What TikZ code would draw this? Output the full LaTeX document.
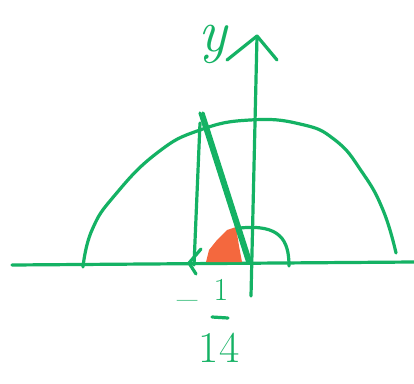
\documentclass[tikz,border=0pt]{standalone}
\usepackage{amsmath,amssymb}
\usepackage{tikz}
\usetikzlibrary{arrows.meta}
\usepackage{xcolor}
\definecolor{penGreen}{RGB}{20, 178, 100}
\definecolor{penOrange}{RGB}{244, 104, 62}

\begin{document}
\begin{tikzpicture}[x=1pt, y=-1pt, >=Latex]
      \tikzset{pen/.style={penGreen, line width=3.2pt, line cap=round, line join=round},
        handtext/.style={penGreen, inner sep=0pt}}
      \useasboundingbox (0,0) rectangle (414,383);
      \fill[white] (0,0) rectangle (414,383);
      % axes
      \coordinate (xl) at (12,265);
      \coordinate (xr) at (414,262);
      \coordinate (yb) at (251,296);
      \coordinate (yt) at (257,36);
      \coordinate (ya) at (227,60);
      \coordinate (yc) at (277,60);
      \draw[pen] (xl) -- (xr);
      \draw[pen] (yb) -- (yt);
      \draw[pen] (ya) -- (yt) -- (yc);
      \node[handtext, font=\fontsize{60}{60}\selectfont\itshape] (ylab) at (213,44) {y};
      % the big curve
      \draw[pen] plot[smooth, tension=0.8] coordinates {
        (83,267) (92,230) (115,195) (157,153) (200,130) (250,120)
        (300,124) (335,140) (362,172) (383,210) (396,253)
      };
      % red angle wedge
      \fill[penOrange] (206,262) -- (209,250) -- (217,240) -- (227,230) -- (236,227)
        -- (239,246) -- (242,262) -- cycle;
      % vertical and slanted line
      \coordinate (vb) at (194,265);
      \coordinate (vt) at (200,123);
      \coordinate (st) at (200,113);
      \coordinate (sb) at (248,263);
      \draw[pen] (vb) -- (vt);
      \draw[pen] (st) -- (sb);
      \draw[pen] ([xshift=3pt]st) -- ([xshift=3pt]sb);
      % angle mark
      \coordinate (as) at (240,228);
      \coordinate (ae) at (289,266);
      \draw[pen] (as) .. controls (280,224) and (289,240) .. (ae);
      % small arrow on the x-axis
      \coordinate (ma) at (201,249);
      \coordinate (mb) at (189,263);
      \coordinate (mc) at (196,274);
      \draw[pen] (ma) -- (mb) -- (mc);
      % label -1/14
      \node[handtext, font=\fontsize{44}{44}\selectfont] (minus) at (188,306) {--};
      \node[handtext, font=\fontsize{32}{32}\selectfont] (num) at (221,290) {1};
      \coordinate (bl) at (212,317);
      \coordinate (br) at (228,318);
      \draw[pen] (bl) -- (br);
      \node[handtext, font=\fontsize{44}{44}\selectfont] (den) at (219,348) {14};
    \end{tikzpicture}
\end{document}
